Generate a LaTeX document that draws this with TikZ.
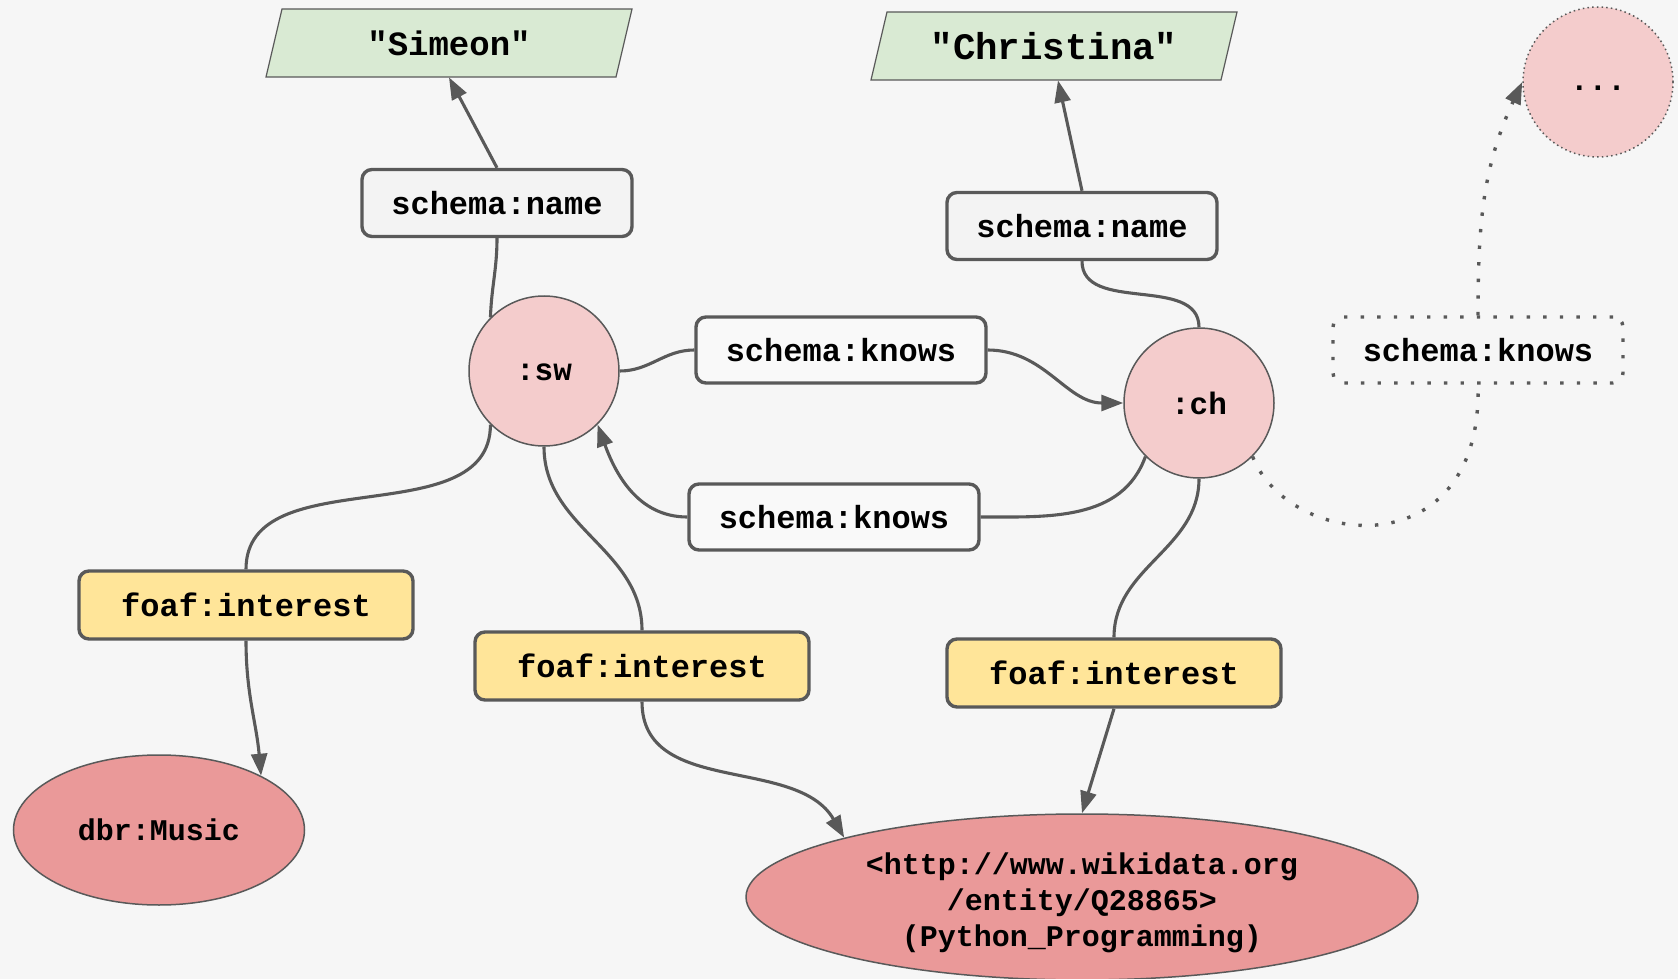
\documentclass[tikz,border=0pt]{standalone}
\usepackage{fontspec}
\setmonofont{Liberation Mono}
\usetikzlibrary{arrows.meta,shapes.geometric,calc}

\definecolor{bgc}{HTML}{F6F6F6}
\definecolor{linec}{HTML}{595959}
\definecolor{litc}{HTML}{D9EAD3}
\definecolor{pinkc}{HTML}{F4CCCC}
\definecolor{yelc}{HTML}{FFE599}
\definecolor{redc}{HTML}{EA9999}
\definecolor{greyf}{HTML}{F3F3F3}
\definecolor{whitef}{HTML}{F9F9F9}

\tikzset{
  conn/.style={draw=linec, line width=1.55pt},
  arr/.style={conn, -{Triangle[length=11pt,width=8pt]}},
  dotconn/.style={draw=linec, line width=1.7pt, dash pattern=on 1.7pt off 6.6pt},
  pred/.style={draw=linec, line width=1.7pt, rounded corners=5pt, inner sep=0pt,
    font=\ttfamily\bfseries\fontsize{16}{20}\selectfont},
  namebox/.style={pred, fill=greyf, minimum width=135pt, minimum height=33.5pt},
  knowsbox/.style={pred, fill=whitef, minimum width=145pt, minimum height=33pt},
  foafbox/.style={pred, fill=yelc, minimum width=167pt, minimum height=34pt},
  res/.style={circle, draw=linec, line width=0.75pt, fill=pinkc, minimum size=75pt,
    inner sep=0pt, font=\ttfamily\bfseries\fontsize{15.5}{18}\selectfont},
  ext/.style={ellipse, draw=linec, line width=0.75pt, fill=redc, inner sep=0pt,
    align=center, font=\ttfamily\bfseries\fontsize{15}{18}\selectfont},
  litshape/.style={fill=litc, draw=linec, line width=0.6pt},
}

\begin{document}
\begin{tikzpicture}[x=0.5pt,y=0.5pt]
% canvas
\fill[bgc] (0,0) rectangle (1678,-979);
\useasboundingbox (0,0) rectangle (1678,-979);

% literal parallelograms
\path[litshape] (266,-77) -- (282,-9) -- (632,-9) -- (616,-77) -- cycle;
\path[litshape] (871,-80) -- (887,-12) -- (1237,-12) -- (1221,-80) -- cycle;

% literals
\node[font=\ttfamily\bfseries\fontsize{17}{20}\selectfont, minimum width=183pt, minimum height=34pt]
  (simeon) at (449,-43) {"Simeon"};
\node[font=\ttfamily\bfseries\fontsize{18.7}{22}\selectfont, minimum width=183pt, minimum height=34pt]
  (christina) at (1054,-46) {"Christina"};

% property boxes
\node[namebox] (name1) at (497,-203) {schema:name};
\node[namebox] (name2) at (1082,-226) {schema:name};
\node[knowsbox] (knows1) at (841,-350) {schema:knows};
\node[knowsbox] (knows2) at (834,-517) {schema:knows};
\node[pred, fill=bgc, minimum width=145pt, minimum height=33pt,
      dash pattern=on 1.7pt off 6.6pt] (knows3) at (1478,-350) {schema:knows};
\node[foafbox] (foaf1) at (246,-605) {foaf:interest};
\node[foafbox] (foaf2) at (642,-666) {foaf:interest};
\node[foafbox] (foaf3) at (1114,-673) {foaf:interest};

% resources
\node[res] (sw) at (544,-371) {\rule{0pt}{10pt}:sw};
\node[res] (ch) at (1199,-403) {\rule{0pt}{10pt}:ch};
\node[res, dash pattern=on 0.75pt off 1.6pt] (dots) at (1598,-82) {\rule{0pt}{9pt}...};

% external resources
\node[ext, minimum width=145.5pt, minimum height=75pt] (music) at (159,-830) {dbr:Music};
\node[ext, minimum width=336pt, minimum height=83pt] (wiki) at (1082,-897)
  {\rule{0pt}{17pt}<http://www.wikidata.org\\/entity/Q28865>\\(Python\_Programming)};

% name edges
\draw[conn] (sw.135) to[out=88,in=-90] (name1.south);
\draw[arr] (name1.north) -- (simeon.south);
\draw[conn] (ch.north) to[out=90,in=-90] (name2.south);
\draw[arr] (name2.north) -- ($(christina.south)+(4,0)$);

% knows edges
\draw[conn] (sw.east) to[out=0,in=180] (knows1.west);
\draw[arr] (knows1.east) to[out=0,in=180] (ch.west);
\draw[conn] (ch.225) to[out=-110,in=0] (knows2.east);
\draw[arr] (knows2.west) to[out=180,in=-70] (sw.-45);
\draw[dotconn] (ch.-45) .. controls +(37,-93) and +(5,-184) .. (knows3.south);
\draw[dotconn, -{Triangle[length=11pt,width=8pt]}] (knows3.north) to[out=90,in=-115] (dots.west);

% interest edges
\draw[conn] (sw.225) to[out=-90,in=90] (foaf1.north);
\draw[arr] (foaf1.south) to[out=-90,in=95] (music.28);
\draw[conn] (sw.south) to[out=-90,in=90] (foaf2.north);
\draw[arr] (foaf2.south) to[out=-90,in=120] (wiki.166);
\draw[conn] (ch.south) to[out=-90,in=90] (foaf3.north);
\draw[arr] (foaf3.south) -- (wiki.north);
\end{tikzpicture}
\end{document}
